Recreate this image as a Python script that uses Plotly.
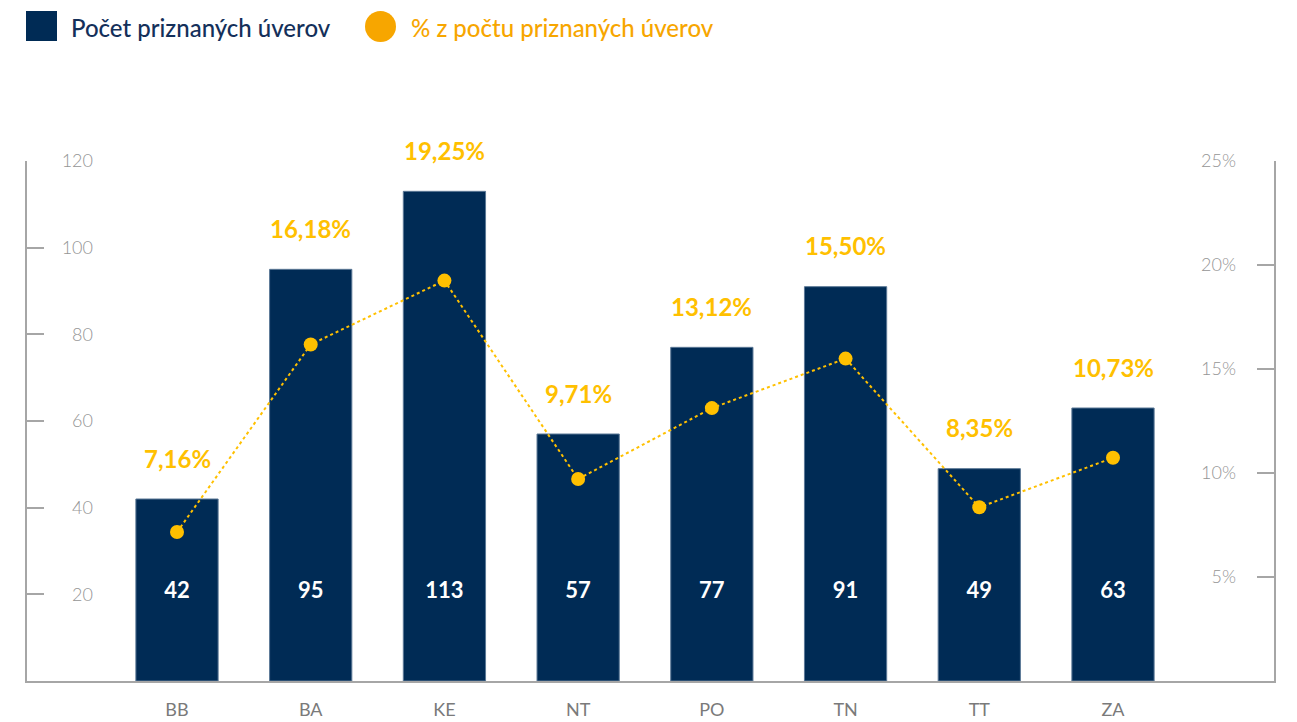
import plotly.graph_objects as go

# ---- data ----
regions = ["BB", "BA", "KE", "NT", "PO", "TN", "TT", "ZA"]
loan_counts = [42, 95, 113, 57, 77, 91, 49, 63]
loan_share_pct = [7.16, 16.18, 19.25, 9.71, 13.12, 15.50, 8.35, 10.73]
left_ticks = [20, 40, 60, 80, 100, 120]
right_ticks = [5, 10, 15, 20, 25]
right_tick_text = [f"{v}%" for v in right_ticks]
legend_bar = "Počet priznaných úverov"
legend_line = "% z počtu priznaných úverov"

# ---- style ----
OFF = 8                      # default page body margin
W, H = 1289, 714
PL, PR, PT, PB = 27, 1274, 161, 681   # plot area in screen px
L, T = PL - OFF, PT - OFF
R, B = W - (PR - OFF), H - (PB - OFF)
NAVY = "#002b55"
GOLD = "#ffc000"
ORANGE = "#f7a600"
AX = "#a6a6a6"
TICKTXT = "#959595"
FONT = "Lato"
LABEL_LEVEL = 20.5  # vertical level of in-bar value labels (count scale)

pw, ph = PR - PL, PB - PT
def px_x(px):
    return (px - PL) / pw
def px_y(py):
    return (PB - py) / ph

idx = list(range(len(regions)))

fig = go.Figure()
fig.add_trace(go.Bar(
    x=idx, y=loan_counts, width=0.615,
    marker=dict(color=NAVY, line=dict(color="#5b7896", width=1)),
    hoverinfo="skip", showlegend=False, yaxis="y",
))
fig.add_trace(go.Scatter(
    x=idx, y=[LABEL_LEVEL] * len(idx), mode="text",
    text=[str(v) for v in loan_counts],
    textfont=dict(family=FONT, size=22, color="white", weight="bold"),
    showlegend=False, hoverinfo="skip", yaxis="y",
))
fig.add_trace(go.Scatter(
    x=idx, y=loan_share_pct, mode="lines+markers",
    line=dict(color=GOLD, width=2, dash="dot"),
    marker=dict(color=GOLD, size=14),
    showlegend=False, hoverinfo="skip", yaxis="y2",
))

ann = []
for i, (c, p) in enumerate(zip(loan_counts, loan_share_pct)):
    ann.append(dict(
        x=i, y=c, xref="x", yref="y", yshift=41, showarrow=False,
        text=f"{p:.2f}".replace(".", ",") + "%",
        font=dict(family=FONT, size=24, color=GOLD, weight="bold"),
    ))

# legend
ann.append(dict(x=px_x(69), y=px_y(27), xref="paper", yref="paper", xanchor="left",
                yanchor="middle", showarrow=False, text=legend_bar,
                font=dict(family=FONT, size=24, color="#14305a", weight=500)))
ann.append(dict(x=px_x(409), y=px_y(27), xref="paper", yref="paper", xanchor="left",
                yanchor="middle", showarrow=False, text=legend_line,
                font=dict(family=FONT, size=24, color=ORANGE, weight=500)))
shapes = [
    dict(type="rect", xref="paper", yref="paper", x0=px_x(26), x1=px_x(57),
         y0=px_y(41), y1=px_y(11), fillcolor=NAVY, line=dict(width=0)),
    dict(type="circle", xref="paper", yref="paper", x0=px_x(365), x1=px_x(396),
         y0=px_y(42), y1=px_y(11), fillcolor=ORANGE, line=dict(width=0)),
]

spacing = (1113 - 177) / 7
x0 = (PL - 177) / spacing
x1 = (PR - 177) / spacing

tickfont = dict(family=FONT, size=18, color=TICKTXT, weight=300)

fig.update_layout(
    width=W, height=H,
    margin=dict(l=L, r=R, t=T, b=B, autoexpand=False),
    paper_bgcolor="white", plot_bgcolor="white",
    showlegend=False,
    annotations=ann, shapes=shapes,
    xaxis=dict(range=[x0, x1], tickvals=idx, ticktext=regions, showgrid=False,
               zeroline=False, showline=True, linecolor=AX, linewidth=1.5,
               ticks="", ticklabelstandoff=12,
               tickfont=dict(family=FONT, size=18, color="#7a7a7a")),
    yaxis=dict(range=[0, 120], tickvals=left_ticks, showgrid=False, zeroline=False,
               showline=False, ticks="", anchor="free", position=px_x(93),
               side="left", tickfont=tickfont),
    yaxis2=dict(range=[0, 25], tickvals=right_ticks, ticktext=right_tick_text,
                showgrid=False, zeroline=False, showline=False, ticks="",
                overlaying="y", anchor="free", position=px_x(1236), side="left",
                tickfont=tickfont),
    yaxis3=dict(range=[0, 120], tickvals=left_ticks, showgrid=False, zeroline=False,
                showline=True, linecolor=AX, linewidth=1.5, ticks="inside",
                ticklen=17, tickcolor=AX, tickwidth=1.5, showticklabels=False,
                overlaying="y", anchor="x", side="left"),
    yaxis4=dict(range=[0, 25], tickvals=right_ticks, showgrid=False, zeroline=False,
                showline=True, linecolor=AX, linewidth=1.5, ticks="inside",
                ticklen=17, tickcolor=AX, tickwidth=1.5, showticklabels=False,
                overlaying="y", anchor="x", side="right"),
)
# empty traces so the overlay axes render
fig.add_trace(go.Scatter(x=[None], y=[None], yaxis="y3", showlegend=False))
fig.add_trace(go.Scatter(x=[None], y=[None], yaxis="y4", showlegend=False))

fig.write_html("out.html")
